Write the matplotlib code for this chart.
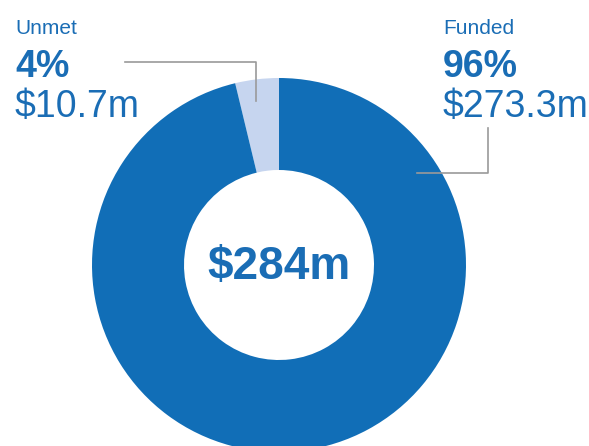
import matplotlib
matplotlib.use('Agg')
import matplotlib.pyplot as plt

# ----- DADOS
labels = ["Unmet", "Funded"]
values = [10.7, 273.3]
percents = ["4%", "96%"]
amounts = ["$10.7m", "$273.3m"]
total_label = "$284m"

W, H = 589, 446
plt.rcParams['font.family'] = ['Liberation Sans', 'DejaVu Sans']

cor_escura = '#116eb7'
cor_clara = '#c6d5ef'
cor_texto = '#1a6db5'
cor_linha = '#9a9a9a'

fig = plt.figure(figsize=(W / 100, H / 100), dpi=100)
ax = fig.add_axes([0, 0, 1, 1])

def py(y):
    # pixels de cima para baixo -> coordenadas do eixo
    return H - y

cx, cy, R, largura = 279, 265, 187, 92
ax.pie(values, colors=[cor_clara, cor_escura], startangle=90, counterclock=True,
       center=(cx, py(cy)), radius=R, frame=True,
       wedgeprops=dict(width=largura, edgecolor='none'))
ax.set_xlim(0, W)
ax.set_ylim(0, H)
ax.set_aspect('auto')
ax.axis('off')

ax.text(cx, py(cy + 2), total_label, ha='center', va='center', fontsize=33,
        fontweight='bold', color=cor_texto)

# ----- RÓTULOS
for x0, lab, pct, amt in [(15, labels[0], percents[0], amounts[0]),
                          (443, labels[1], percents[1], amounts[1])]:
    ax.text(x0, py(34), lab, fontsize=15, color=cor_texto, va='baseline')
    ax.text(x0, py(77), pct, fontsize=27, fontweight='bold', color=cor_texto, va='baseline')
    ax.text(x0, py(117), amt, fontsize=27, color=cor_texto, va='baseline')

# ----- LINHAS GUIA
ax.plot([125, 256, 256], [py(62), py(62), py(101)], color=cor_linha, lw=1.2)
ax.plot([488, 488, 417], [py(128), py(173), py(173)], color=cor_linha, lw=1.2)

fig.savefig("out.png", dpi=100)
